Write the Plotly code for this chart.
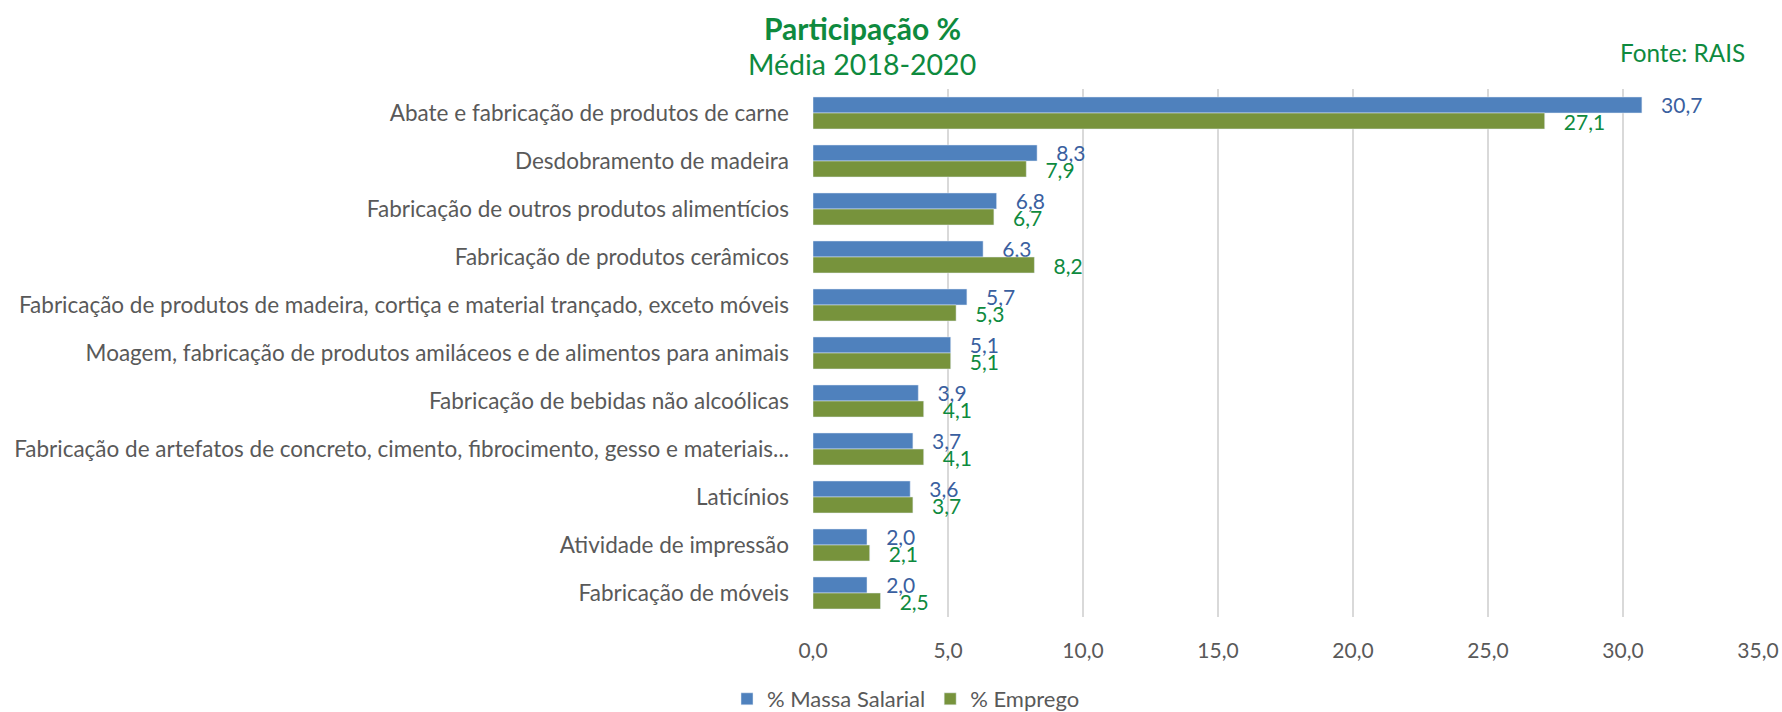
import plotly.graph_objects as go

categories = [
    "Abate e fabricação de produtos de carne",
    "Desdobramento de madeira",
    "Fabricação de outros produtos alimentícios",
    "Fabricação de produtos cerâmicos",
    "Fabricação de produtos de madeira, cortiça e material trançado, exceto móveis",
    "Moagem, fabricação de produtos amiláceos e de alimentos para animais",
    "Fabricação de bebidas não alcoólicas",
    "Fabricação de artefatos de concreto, cimento, fibrocimento, gesso e materiais...",
    "Laticínios",
    "Atividade de impressão",
    "Fabricação de móveis",
]
massa_salarial = [30.7, 8.3, 6.8, 6.3, 5.7, 5.1, 3.9, 3.7, 3.6, 2.0, 2.0]
emprego = [27.1, 7.9, 6.7, 8.2, 5.3, 5.1, 4.1, 4.1, 3.7, 2.1, 2.5]
x_ticks = [0, 5, 10, 15, 20, 25, 30, 35]

FONT = "Lato"
GRAY = "#595959"
GREEN_TXT = "#0E8A3E"
PAD = "\u00a0\u00a0\u00a0"

L, R, T, B = 813, 24, 89, 95
W, H = 1782, 712
PW = W - L - R

fig = go.Figure()
fig.add_trace(go.Bar(
    y=categories, x=massa_salarial, orientation="h", name="% Massa Salarial",
    marker=dict(color="#4F81BD"),
    text=[PAD + f"{v:.1f}".replace(".", ",") for v in massa_salarial],
    textposition="outside", cliponaxis=False, constraintext="none",
    textfont=dict(family=FONT, size=21, color="#3A5F9F"),
))
fig.add_trace(go.Bar(
    y=categories, x=emprego, orientation="h", name="% Emprego",
    marker=dict(color="#77933C"),
    text=[PAD + f"{v:.1f}".replace(".", ",") for v in emprego],
    textposition="outside", cliponaxis=False, constraintext="none",
    textfont=dict(family=FONT, size=21, color=GREEN_TXT),
))

fig.update_layout(
    width=W, height=H,
    paper_bgcolor="white", plot_bgcolor="white",
    barmode="group", bargap=0.333, bargroupgap=0,
    separators=",.",
    margin=dict(l=L, r=R, t=T, b=B, autoexpand=False),
    font=dict(family=FONT, color=GRAY, size=22),
    showlegend=True,
    legend=dict(orientation="h", x=906 / W, xanchor="center", xref="container",
                y=1 - 699 / H, yanchor="middle", yref="container",
                font=dict(family=FONT, size=22, color=GRAY),
                itemwidth=30, traceorder="normal"),
    xaxis=dict(range=[0, 35], tickvals=x_ticks, tickformat=".1f",
               showgrid=True, gridcolor="#D9D9D9", gridwidth=1.5,
               zeroline=False, showline=False, ticks="", automargin=False,
               ticklabelstandoff=19,
               tickfont=dict(family=FONT, size=21, color=GRAY)),
    yaxis=dict(autorange="reversed", showgrid=False, ticks="", showline=False,
               automargin=False, ticklabelstandoff=23,
               tickfont=dict(family=FONT, size=22.5, color=GRAY)),
    annotations=[
        dict(text="<b>Participação %</b>", xref="paper", yref="paper",
             x=(862 - L) / PW, y=1, yshift=61, showarrow=False,
             xanchor="center", yanchor="middle",
             font=dict(family=FONT, size=30, color=GREEN_TXT)),
        dict(text="Média 2018-2020", xref="paper", yref="paper",
             x=(862 - L) / PW, y=1, yshift=25, showarrow=False,
             xanchor="center", yanchor="middle",
             font=dict(family=FONT, size=28.5, color=GREEN_TXT)),
        dict(text="Fonte: RAIS", xref="paper", yref="paper",
             x=1, xshift=-11, y=1, yshift=37, showarrow=False,
             xanchor="right", yanchor="middle",
             font=dict(family=FONT, size=24.3, color=GREEN_TXT)),
    ],
)

fig.write_html(
    "out.html",
    config={"displayModeBar": False},
    post_script="document.body.style.margin='0';document.body.style.overflow='hidden';",
)
